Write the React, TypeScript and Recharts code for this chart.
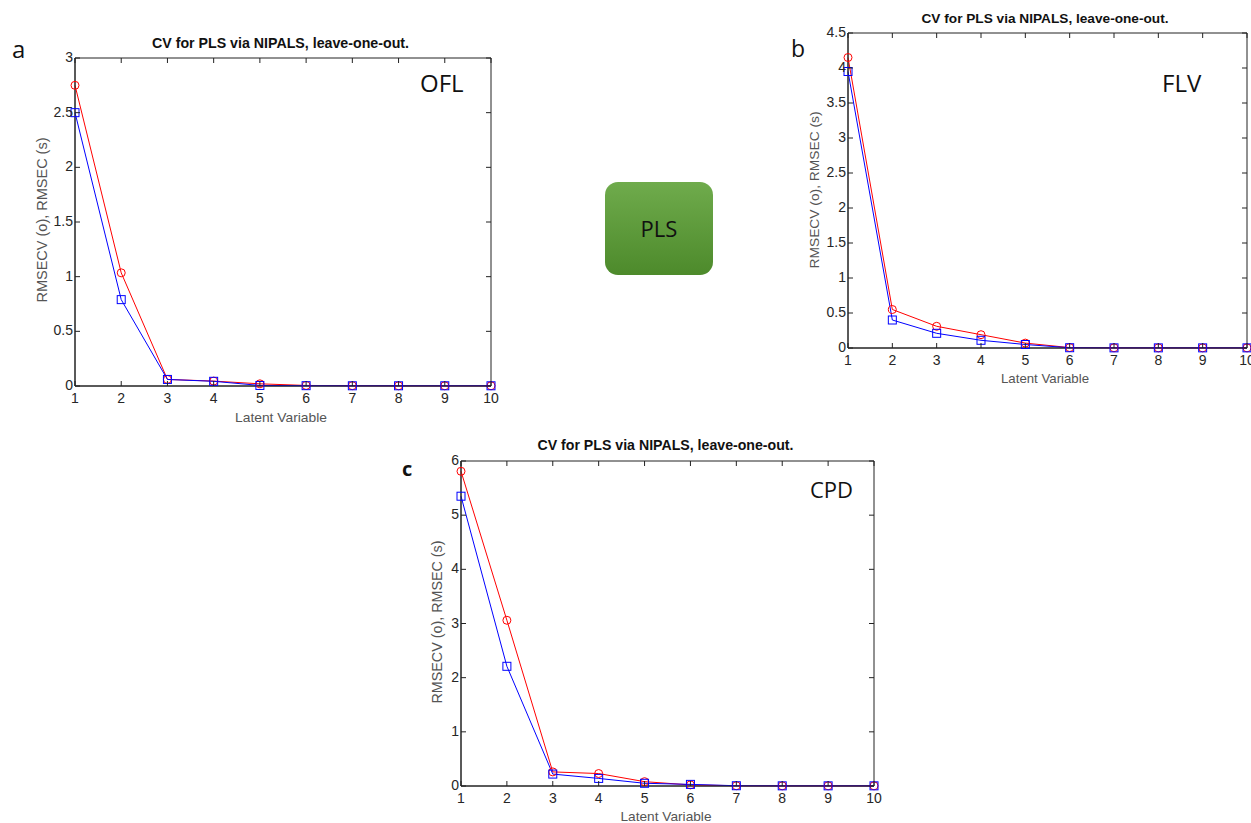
import React from 'react'
import { LineChart, Line, XAxis, YAxis, ReferenceArea } from 'recharts'

// latent variable count on the x axis (same for all three panels)
const latentVariables = [1, 2, 3, 4, 5, 6, 7, 8, 9, 10]

// panel a - OFL
const oflRmsecv = [2.75, 1.035, 0.06, 0.045, 0.02, 0.005, 0.003, 0.002, 0.002, 0.002]
const oflRmsec = [2.5, 0.79, 0.06, 0.043, 0.005, 0.003, 0.002, 0.002, 0.002, 0.002]
const oflTicks = [0, 0.5, 1, 1.5, 2, 2.5, 3]

// panel b - FLV
const flvRmsecv = [4.15, 0.55, 0.31, 0.19, 0.07, 0.006, 0.003, 0.002, 0.002, 0.002]
const flvRmsec = [3.95, 0.4, 0.21, 0.11, 0.05, 0.004, 0.002, 0.002, 0.002, 0.002]
const flvTicks = [0, 0.5, 1, 1.5, 2, 2.5, 3, 3.5, 4, 4.5]

// panel c - CPD
const cpdRmsecv = [5.81, 3.06, 0.26, 0.23, 0.08, 0.02, 0.005, 0.003, 0.003, 0.003]
const cpdRmsec = [5.35, 2.21, 0.22, 0.14, 0.05, 0.03, 0.005, 0.003, 0.003, 0.003]
const cpdTicks = [0, 1, 2, 3, 4, 5, 6]

const FONT = '"Liberation Sans", Arial, sans-serif'
const LABEL_FONT = '"Open Sans", "Noto Sans", sans-serif'

function buildRows(cv: number[], c: number[]) {
  return latentVariables.map((lv, i) => ({ lv, rmsecv: cv[i], rmsec: c[i] }))
}

const SquareDot = (props: any) => {
  const { cx, cy, index } = props
  if (cx == null || cy == null) return <g key={index} />
  return <rect key={index} x={cx - 4} y={cy - 4} width={8} height={8} fill="none" stroke="#0000ff" strokeWidth={1} />
}

type PanelProps = {
  left: number
  top: number
  w: number
  h: number
  yMax: number
  yTicks: number[]
  cv: number[]
  c: number[]
}

function CvPanel({ left, top, w, h, yMax, yTicks, cv, c }: PanelProps) {
  const YW = 45, XH = 30, MT = 10, MR = 10
  const rows = buildRows(cv, c)

  // matlab style: ticks point inward, mirrored on the opposite side
  const XTick = (p: any) => (
    <g>
      <line x1={p.x} y1={p.y} x2={p.x} y2={p.y - 5} stroke="#222" />
      <line x1={p.x} y1={p.y - h} x2={p.x} y2={p.y - h + 5} stroke="#222" />
      <text x={p.x} y={p.y + 17} textAnchor="middle" fontSize={14} fontFamily={FONT} fill="#262626">
        {p.payload.value}
      </text>
    </g>
  )
  const YTick = (p: any) => (
    <g>
      <line x1={p.x} y1={p.y} x2={p.x + 5} y2={p.y} stroke="#222" />
      <line x1={p.x + w} y1={p.y} x2={p.x + w - 5} y2={p.y} stroke="#222" />
      <text x={p.x - 2} y={p.y + 4} textAnchor="end" fontSize={14} fontFamily={FONT} fill="#262626">
        {p.payload.value}
      </text>
    </g>
  )

  return (
    <div style={{ position: 'absolute', left: left - YW, top: top - MT }}>
      <LineChart width={YW + w + MR} height={MT + h + XH} data={rows} margin={{ top: MT, right: MR, left: 0, bottom: 0 }}>
        <XAxis dataKey="lv" type="number" domain={[1, 10]} ticks={latentVariables} interval={0}
          height={XH} tickSize={0} tickMargin={0} tick={XTick} tickLine={false} axisLine={{ stroke: '#222' }} />
        <YAxis type="number" domain={[0, yMax]} ticks={yTicks} interval={0}
          width={YW} tickSize={0} tickMargin={0} tick={YTick} tickLine={false} axisLine={{ stroke: '#222' }} />
        <ReferenceArea x1={1} x2={10} y1={0} y2={yMax} fill="none" fillOpacity={0} stroke="#222" strokeWidth={1} />
        <Line dataKey="rmsecv" stroke="#ff0000" strokeWidth={1}
          dot={{ r: 4, stroke: '#ff0000', fill: 'none', strokeWidth: 1 }} isAnimationActive={false} />
        <Line dataKey="rmsec" stroke="#0000ff" strokeWidth={1} dot={SquareDot} isAnimationActive={false} />
      </LineChart>
    </div>
  )
}

const TITLE = 'CV for PLS via NIPALS, leave-one-out.'
const X_LABEL = 'Latent Variable'
const Y_LABEL = 'RMSECV (o), RMSEC (s)'

export default function App() {
  return (
    <div style={{ position: 'absolute', left: 0, top: 0, width: 1251, height: 823, overflow: 'hidden', background: '#fff' }}>
      <CvPanel left={75} top={58} w={416} h={328} yMax={3} yTicks={oflTicks} cv={oflRmsecv} c={oflRmsec} />
      <CvPanel left={848} top={33} w={399} h={315} yMax={4.5} yTicks={flvTicks} cv={flvRmsecv} c={flvRmsec} />
      <CvPanel left={461} top={461} w={413} h={325} yMax={6} yTicks={cpdTicks} cv={cpdRmsecv} c={cpdRmsec} />

      <svg width={1251} height={823} style={{ position: 'absolute', left: 0, top: 0, pointerEvents: 'none' }}>
        <defs>
          <linearGradient id="plsGreen" x1="0" y1="0" x2="0" y2="1">
            <stop offset="0%" stopColor="#6fab4c" />
            <stop offset="100%" stopColor="#4d8a2b" />
          </linearGradient>
        </defs>

        {/* titles */}
        <text x={280.5} y={48} textAnchor="middle" fontSize={14} fontWeight="bold" fontFamily={FONT} fill="#111"
          textLength={257} lengthAdjust="spacingAndGlyphs">{TITLE}</text>
        <text x={1045} y={23} textAnchor="middle" fontSize={13.5} fontWeight="bold" fontFamily={FONT} fill="#111"
          textLength={247} lengthAdjust="spacingAndGlyphs">{TITLE}</text>
        <text x={665.5} y={450} textAnchor="middle" fontSize={14} fontWeight="bold" fontFamily={FONT} fill="#111"
          textLength={256} lengthAdjust="spacingAndGlyphs">{TITLE}</text>

        {/* x axis labels */}
        <text x={281} y={422} textAnchor="middle" fontSize={13.5} fontFamily={FONT} fill="#555"
          textLength={92} lengthAdjust="spacingAndGlyphs">{X_LABEL}</text>
        <text x={1045} y={383} textAnchor="middle" fontSize={13} fontFamily={FONT} fill="#555"
          textLength={88} lengthAdjust="spacingAndGlyphs">{X_LABEL}</text>
        <text x={666} y={821} textAnchor="middle" fontSize={13.5} fontFamily={FONT} fill="#555"
          textLength={91} lengthAdjust="spacingAndGlyphs">{X_LABEL}</text>

        {/* y axis labels */}
        <text transform="translate(47,220) rotate(-90)" textAnchor="middle" fontSize={14} fontFamily={FONT} fill="#555"
          textLength={165} lengthAdjust="spacingAndGlyphs">{Y_LABEL}</text>
        <text transform="translate(819,190) rotate(-90)" textAnchor="middle" fontSize={13.5} fontFamily={FONT} fill="#555"
          textLength={157} lengthAdjust="spacingAndGlyphs">{Y_LABEL}</text>
        <text transform="translate(442,622) rotate(-90)" textAnchor="middle" fontSize={14} fontFamily={FONT} fill="#555"
          textLength={163} lengthAdjust="spacingAndGlyphs">{Y_LABEL}</text>

        {/* panel letters */}
        <text x={12} y={58} fontSize={24} fontFamily={LABEL_FONT} fill="#111">a</text>
        <text x={791} y={57} fontSize={23} fontFamily={LABEL_FONT} fill="#111">b</text>
        <text x={402} y={476} fontSize={20} fontWeight="bold" fontFamily={LABEL_FONT} fill="#111">c</text>

        {/* property names */}
        <text x={420} y={92} fontSize={24} fontFamily={LABEL_FONT} fill="#111">OFL</text>
        <text x={1162} y={92} fontSize={24} fontFamily={LABEL_FONT} fill="#111">FLV</text>
        <text x={810} y={498} fontSize={22} fontFamily={LABEL_FONT} fill="#111">CPD</text>

        {/* PLS badge */}
        <rect x={605} y={182} width={108} height={93} rx={13} ry={13} fill="url(#plsGreen)" />
        <text x={659} y={237} textAnchor="middle" fontSize={22} fontFamily={LABEL_FONT} fill="#111">PLS</text>
      </svg>
    </div>
  )
}
